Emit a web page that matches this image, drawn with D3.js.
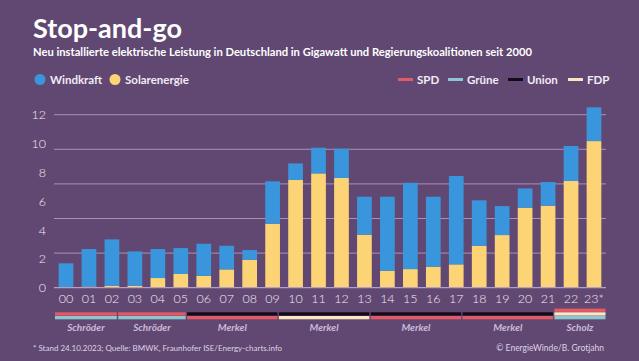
<!DOCTYPE html>
<html>
<head>
<meta charset="utf-8">
<script src="https://cdn.jsdelivr.net/npm/d3@7"></script>
<style>
  html, body { margin: 0; padding: 0; background: #614872; }
  svg { display: block; font-family: Lato, "Noto Sans", sans-serif; }
</style>
</head>
<body>
<div class="chart"></div>
<script>
// years on the x axis
var years = ["00","01","02","03","04","05","06","07","08","09","10","11",
             "12","13","14","15","16","17","18","19","20","21","22","23*"];
// newly installed capacity, GW
var solar = [0.03,0.08,0.14,0.14,0.67,0.95,0.83,1.27,1.94,4.44,7.47,7.93,
             7.61,3.68,1.18,1.29,1.46,1.62,2.91,3.65,5.55,5.69,7.40,10.17];
var wind  = [1.66,2.60,3.21,2.38,2.01,1.80,2.22,1.64,0.67,2.94,1.15,1.78,
             2.03,2.63,5.13,5.99,4.85,6.13,3.15,2.01,1.34,1.64,2.43,2.34];
var yTicks = [0, 2, 4, 6, 8, 10, 12];
var gridLines = [2.4, 4.8, 7.2, 9.6, 12];

// government coalitions: last year (bar) of each term, parties top to bottom
var coalitions = [
    {name: "Schröder", end: "02",  parties: ["SPD", "Grüne"]},
    {name: "Schröder", end: "05",  parties: ["SPD", "Grüne"]},
    {name: "Merkel",   end: "09",  parties: ["Union", "SPD"]},
    {name: "Merkel",   end: "13",  parties: ["Union", "FDP"]},
    {name: "Merkel",   end: "17",  parties: ["Union", "SPD"]},
    {name: "Merkel",   end: "21",  parties: ["Union", "SPD"]},
    {name: "Scholz",   end: "23*", parties: ["SPD", "FDP", "Grüne"]}
];
var parties = ["SPD", "Grüne", "Union", "FDP"];
var partyColor = {"SPD": "#e25a66", "Grüne": "#8ec6cf", "Union": "#140b1a", "FDP": "#fbe6bf"};

var width = 639, height = 361;
var colWind = "#3a96dc", colSolar = "#fcd476";
var textCol = "#f1ebf4", gridCol = "#a890bb";

var svg = d3.select(".chart").append("svg")
    .attr("width", width).attr("height", height);

svg.append("rect").attr("width", width).attr("height", height).attr("fill", "#614872");

// header
svg.append("text").attr("x", 33).attr("y", 38)
    .attr("fill", "#ffffff").attr("font-size", 27).attr("font-weight", 700)
    .text("Stop-and-go");
svg.append("text").attr("x", 33).attr("y", 56)
    .attr("fill", "#ffffff").attr("font-size", 11.2).attr("font-weight", 700)
    .text("Neu installierte elektrische Leistung in Deutschland in Gigawatt und Regierungskoalitionen seit 2000");

// legend left
var legItems = [{label: "Windkraft", color: colWind, x: 40}, {label: "Solarenergie", color: colSolar, x: 115}];
legItems.forEach(function(d) {
    svg.append("circle").attr("cx", d.x).attr("cy", 79.5).attr("r", 5.5).attr("fill", d.color);
    svg.append("text").attr("x", d.x + 10).attr("y", 84)
        .attr("fill", textCol).attr("font-size", 11.5).attr("font-weight", 700)
        .text(d.label);
});
// legend right
var legX = [398, 448, 508, 568];
parties.forEach(function(p, i) {
    svg.append("rect").attr("x", legX[i]).attr("y", 78).attr("width", 15).attr("height", 3)
        .attr("fill", partyColor[p]);
    svg.append("text").attr("x", legX[i] + 19).attr("y", 84)
        .attr("fill", textCol).attr("font-size", 11.5).attr("font-weight", 700)
        .text(p);
});

// scales
var x = d3.scaleBand().domain(years).range([55, 605]).paddingInner(0.36).paddingOuter(0.16);
var y = d3.scaleLinear().domain([0, 12]).range([287.7, 114.7]);

// gridlines
svg.append("g").selectAll("line").data(gridLines).enter().append("line")
    .attr("x1", 54).attr("x2", 606)
    .attr("y1", function(d) { return y(d); }).attr("y2", function(d) { return y(d); })
    .attr("stroke", gridCol).attr("stroke-width", 1);

// y labels
svg.append("g").selectAll("text").data(yTicks).enter().append("text")
    .attr("x", 46).attr("y", function(d) { return y(d) + 4.5; })
    .attr("text-anchor", "end").attr("fill", textCol).attr("font-size", 12.5).attr("font-weight", 300)
    .text(function(d) { return d; });

// stacked bars
var data = years.map(function(yr, i) { return {year: yr, solar: solar[i], wind: wind[i]}; });
var series = d3.stack().keys(["solar", "wind"])(data);
var colors = {solar: colSolar, wind: colWind};

svg.append("g").selectAll("g").data(series).enter().append("g")
    .attr("fill", function(s) { return colors[s.key]; })
    .selectAll("rect").data(function(s) { return s; }).enter().append("rect")
    .attr("x", function(d) { return x(d.data.year); })
    .attr("width", x.bandwidth())
    .attr("y", function(d) { return y(d[1]); })
    .attr("height", function(d) { return y(d[0]) - y(d[1]); });

// baseline
svg.append("line").attr("x1", 54).attr("x2", 606).attr("y1", y(0)).attr("y2", y(0))
    .attr("stroke", "#b59fc4").attr("stroke-width", 1.2);

// x labels
svg.append("g").selectAll("text").data(years).enter().append("text")
    .attr("x", function(d) { return x(d) + x.bandwidth() / 2; })
    .attr("y", 303)
    .attr("text-anchor", "middle").attr("fill", textCol).attr("font-size", 12.5).attr("font-weight", 300)
    .text(function(d) { return d; });

// coalition stripes
var segs = coalitions.map(function(c, i) {
    var x0 = i === 0 ? 55 : x(coalitions[i - 1].end) + x.bandwidth() * 0.88 + 0.7;
    var x1 = i === coalitions.length - 1 ? 605.5 : x(c.end) + x.bandwidth() * 0.88 - 0.7;
    return {name: c.name, parties: c.parties, x0: x0, x1: x1};
});
var segG = svg.append("g").selectAll("g").data(segs).enter().append("g");
segG.each(function(s) {
    var g = d3.select(this);
    var n = s.parties.length;
    s.parties.forEach(function(p, j) {
        g.append("rect")
            .attr("x", s.x0).attr("width", s.x1 - s.x0)
            .attr("y", 316 - (n - 1 - j) * 3.7).attr("height", 3.3)
            .attr("fill", partyColor[p]);
    });
    g.append("text")
        .attr("x", (s.x0 + s.x1) / 2).attr("y", 331)
        .attr("text-anchor", "middle").attr("fill", "#cbbad8")
        .attr("font-size", 10).attr("font-weight", 700).attr("font-style", "italic")
        .text(s.name);
});

// footer
svg.append("text").attr("x", 33).attr("y", 351)
    .attr("fill", "#ddd2e5").attr("font-size", 8)
    .text("* Stand 24.10.2023; Quelle: BMWK, Fraunhofer ISE/Energy-charts.info");
svg.append("text").attr("x", 604).attr("y", 351).attr("text-anchor", "end")
    .attr("fill", "#ddd2e5").attr("font-size", 8.5)
    .text("© EnergieWinde/B. Grotjahn");
</script>
</body>
</html>
